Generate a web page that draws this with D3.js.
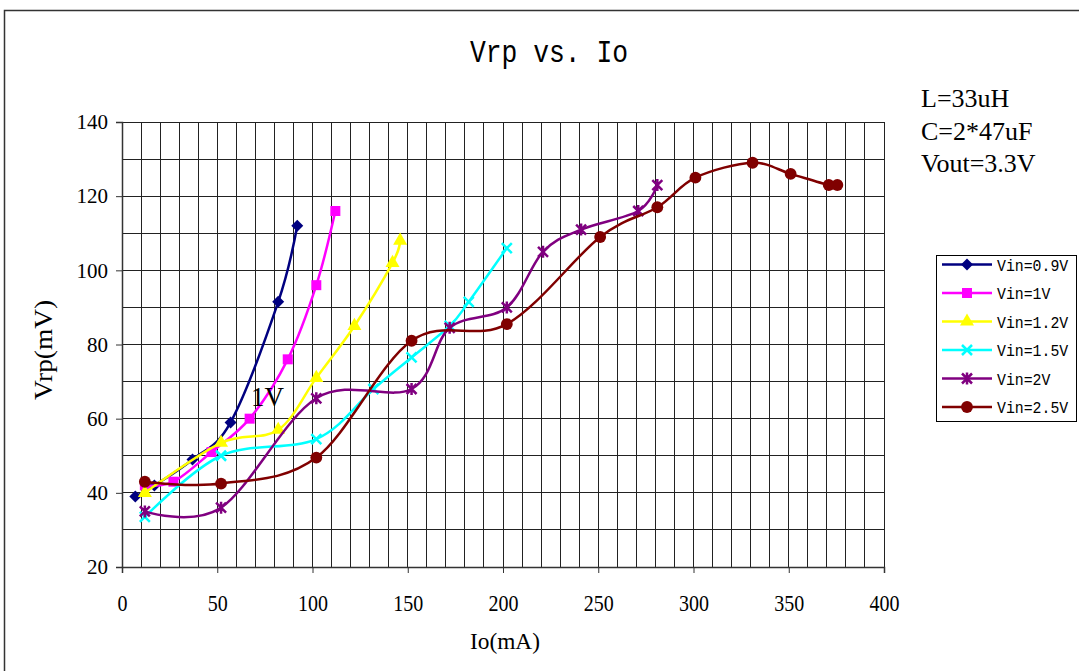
<!DOCTYPE html>
<html><head><meta charset="utf-8">
<script src="https://cdn.jsdelivr.net/npm/d3@7/dist/d3.min.js"></script>
<style>
html,body{margin:0;padding:0;background:#fff;}
svg{display:block;}
text{font-family:"Liberation Serif","Times New Roman",serif;fill:#000;}
</style></head>
<body><svg id="c" width="1079" height="671"></svg>
<script>
// ---- data ----
const seriesNames = ["Vin=0.9V","Vin=1V","Vin=1.2V","Vin=1.5V","Vin=2V","Vin=2.5V"];
const io09 = [7,17,37,57,82,92];
const vrp09 = [39,42,49,59,91.5,112];
const io10 = [12,27,47,67,87,102,112];
const vrp10 = [42,43,51,60,76,96,116];
const io12 = [12,52,82,102,122,142,146];
const vrp12 = [40,53.5,57,71,85,102,108];
const io15 = [12,52,102,132,152,172,182,202];
const vrp15 = [33.5,50,54.5,68,76.5,85,91.5,106];
const io20 = [12,52,102,152,172,202,221,241,271,281];
const vrp20 = [35,36,65.5,68,84.5,90,105,111,116,123];
const io25 = [12,52,102,152,202,251,281,301,331,351,371,375.5];
const vrp25 = [43,42.5,49.5,81,85.5,109,117,125,129,126,123,123];
const xTicks = [0,50,100,150,200,250,300,350,400];
const yTicks = [20,40,60,80,100,120,140];
const notes = ["L=33uH","C=2*47uF","Vout=3.3V"];

const colors = ["#000080","#FF00FF","#FFFF00","#00FFFF","#800080","#800000"];
const markers = ["diamond","square","triangle","x","star","circle"];
const ioList = [io09,io10,io12,io15,io20,io25];
const vrpList = [vrp09,vrp10,vrp12,vrp15,vrp20,vrp25];
const series = seriesNames.map((n,i)=>({name:n,color:colors[i],marker:markers[i],
  pts:ioList[i].map((x,j)=>({x:x,y:vrpList[i][j]}))}));

const svg = d3.select("#c");
// outer frame
svg.append("rect").attr("x",4.5).attr("y",10.5).attr("width",1090).attr("height",680)
  .attr("fill","none").attr("stroke","#333").attr("stroke-width",1.5);

const L=122,R=884,T=122,B=567;
const x = d3.scaleLinear().domain([0,400]).range([L,R]);
const y = d3.scaleLinear().domain([20,140]).range([B,T]);

// gridlines every 10
const g = svg.append("g");
g.selectAll(".vg").data(d3.range(10,401,10)).enter().append("line")
  .attr("x1",d=>x(d)).attr("x2",d=>x(d)).attr("y1",T).attr("y2",B)
  .attr("stroke","#222").attr("stroke-width",1).attr("shape-rendering","crispEdges");
g.selectAll(".hg").data(d3.range(30,141,10)).enter().append("line")
  .attr("x1",L).attr("x2",R).attr("y1",d=>y(d)).attr("y2",d=>y(d))
  .attr("stroke","#222").attr("stroke-width",1).attr("shape-rendering","crispEdges");

// axes
const xAxis = d3.axisBottom(x).tickValues(xTicks).tickSize(6).tickPadding(22).tickFormat(d3.format("d"));
const yAxis = d3.axisLeft(y).tickValues(yTicks).tickSize(6).tickPadding(8).tickFormat(d3.format("d"));
const gx = svg.append("g").attr("transform",`translate(0,${B})`).call(xAxis);
const gy = svg.append("g").attr("transform",`translate(${L},0)`).call(yAxis);
[gx,gy].forEach(a=>{
  a.select(".domain").attr("stroke","#333").attr("stroke-width",1.5);
  a.selectAll(".tick line").attr("stroke","#333");
  a.selectAll("text").style("font-family","Liberation Serif").style("font-size","21px");
});
gx.selectAll("text").style("font-size","23px").attr("textLength",function(d){return String(d).length*10;}).attr("lengthAdjust","spacingAndGlyphs");

// titles
svg.append("text").attr("x",549).attr("y",62).attr("text-anchor","middle")
  .style("font-family","Liberation Mono").attr("font-size",31).attr("textLength",158).attr("lengthAdjust","spacingAndGlyphs").text("Vrp vs. Io");
svg.append("text").attr("x",505).attr("y",649).attr("text-anchor","middle")
  .attr("font-size",24).attr("textLength",70).attr("lengthAdjust","spacingAndGlyphs").text("Io(mA)");
svg.append("text").attr("transform","translate(52,350) rotate(-90)").attr("text-anchor","middle")
  .attr("font-size",26).attr("textLength",100).attr("lengthAdjust","spacingAndGlyphs").text("Vrp(mV)");

// notes
notes.forEach((t,i)=>{
  svg.append("text").attr("x",921).attr("y",107+i*32.5).attr("font-size",26).text(t);
});

// marker generator
function markerPath(type){
  if(type==="diamond") return "M0,-6L6,0L0,6L-6,0Z";
  if(type==="square") return d3.symbol(d3.symbolSquare,100)();
  if(type==="triangle") return d3.symbol(d3.symbolTriangle,85)();
  if(type==="circle") return d3.symbol(d3.symbolCircle,110)();
  if(type==="x") return "M-5,-5L5,5M-5,5L5,-5";
  if(type==="star") return "M-5,-5L5,5M-5,5L5,-5M0,-6L0,6";
}
function drawMarker(sel,s){
  const p = markerPath(s.marker);
  if(s.marker==="x"||s.marker==="star"){
    sel.append("path").attr("d",p).attr("fill","none").attr("stroke",s.color).attr("stroke-width",2.5);
  } else {
    sel.append("path").attr("d",p).attr("fill",s.color).attr("stroke","none");
  }
}

const line = d3.line().x(d=>x(d.x)).y(d=>y(d.y)).curve(d3.curveCardinal.tension(0));
series.forEach(s=>{
  const gs = svg.append("g");
  gs.append("path").attr("d",line(s.pts)).attr("fill","none").attr("stroke",s.color).attr("stroke-width",2.5);
  gs.selectAll("g.m").data(s.pts).enter().append("g")
    .attr("transform",d=>`translate(${x(d.x)},${y(d.y)})`)
    .each(function(){drawMarker(d3.select(this),s);});
});

// 1V annotation
svg.append("text").attr("x",251).attr("y",406).attr("font-size",27).text("1V");

// legend
const lg = svg.append("g");
lg.append("rect").attr("x",936.5).attr("y",255.5).attr("width",140).attr("height",166)
  .attr("fill","#fff").attr("stroke","#000").attr("stroke-width",1);
series.forEach((s,i)=>{
  const cy = 264.5 + i*28.5;
  const e = lg.append("g");
  e.append("line").attr("x1",942).attr("x2",992).attr("y1",cy).attr("y2",cy).attr("stroke",s.color).attr("stroke-width",2.5);
  const m = e.append("g").attr("transform",`translate(967,${cy})`);
  drawMarker(m,s);
  e.append("text").attr("x",997).attr("y",cy+6).style("font-family","Liberation Mono").attr("font-size",16)
    .attr("textLength",s.name.length*8.9).attr("lengthAdjust","spacingAndGlyphs").text(s.name);
});
</script></body></html>
